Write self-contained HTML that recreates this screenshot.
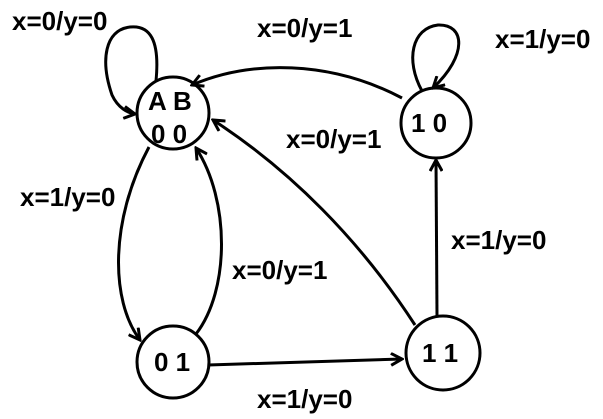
<!DOCTYPE html>
<html><head><style>body{margin:0;background:#fff}svg{display:block}text{font-family:"Liberation Sans",sans-serif;font-weight:bold;font-size:26px;fill:#000}.n{font-size:26px}</style></head><body>
<svg width="603" height="419" viewBox="0 0 603 419">
<defs><marker id="a" markerWidth="14" markerHeight="14" refX="12" refY="7" orient="auto" markerUnits="userSpaceOnUse"><path d="M1,1 L12,7 L1,13" fill="none" stroke="#000" stroke-width="3"/></marker></defs>
<g fill="none" stroke="#000" stroke-width="3">
<circle cx="173" cy="113" r="36"/>
<circle cx="436" cy="123" r="35"/>
<circle cx="173" cy="362" r="36"/>
<circle cx="443" cy="353" r="37"/>
<path d="M156,81 C160,40 150,25 130,27 C105,30 100,60 112,95 C118,108 128,113 135,114" marker-end="url(#a)"/>
<path d="M422,91 C405,60 412,28 438,25 C465,24 468,55 433,88" marker-end="url(#a)"/>
<path d="M402,98 C330,60 250,60 192,85" marker-end="url(#a)"/>
<path d="M415,325 C360,240 290,170 213,120" marker-end="url(#a)"/>
<path d="M437,316 L436,160" marker-end="url(#a)"/>
<path d="M149,147 C110,220 110,300 140,340" marker-end="url(#a)"/>
<path d="M196,334 C230,290 230,200 196,148" marker-end="url(#a)"/>
<path d="M208,365 L402,359" marker-end="url(#a)"/>
</g>
<text x="12" y="30">x=0/y=0</text>
<text x="257" y="37">x=0/y=1</text>
<text x="495" y="48">x=1/y=0</text>
<text x="286" y="148">x=0/y=1</text>
<text x="20" y="206">x=1/y=0</text>
<text x="232" y="279">x=0/y=1</text>
<text x="451" y="249">x=1/y=0</text>
<text x="257" y="408">x=1/y=0</text>
<text class="n" x="148" y="110">A B</text>
<text class="n" x="151" y="143">0 0</text>
<text class="n" x="411" y="132">1 0</text>
<text class="n" x="154" y="371">0 1</text>
<text class="n" x="422" y="362">1 1</text>
</svg>
</body></html>
